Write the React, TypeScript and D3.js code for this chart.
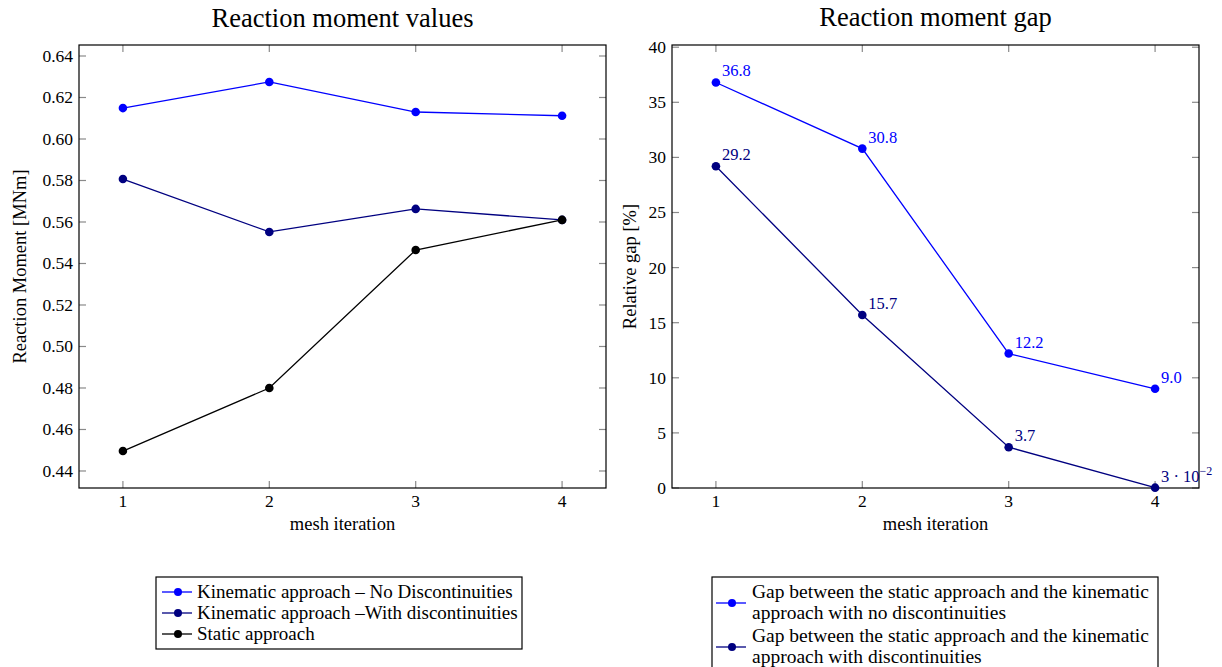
import React from "react";
import * as d3 from "d3";

// ---- data ----
const ITERATIONS = [1, 2, 3, 4];
const KIN_NO_DISC = [0.6149, 0.6275, 0.613, 0.6112];
const KIN_WITH_DISC = [0.5807, 0.5552, 0.5663, 0.561];
const STATIC_APPROACH = [0.4496, 0.48, 0.5465, 0.561];
const LEFT_Y_TICKS = [0.44, 0.46, 0.48, 0.5, 0.52, 0.54, 0.56, 0.58, 0.6, 0.62, 0.64];

const GAP_NO_DISC = [36.8, 30.8, 12.2, 9.0];
const GAP_WITH_DISC = [29.2, 15.7, 3.7, 0.03];
const GAP_NO_LABELS = ["36.8", "30.8", "12.2", "9.0"];
const GAP_WITH_LABELS = ["29.2", "15.7", "3.7", "3 · 10|−2"];
const RIGHT_Y_TICKS = [0, 5, 10, 15, 20, 25, 30, 35, 40];

const LEFT_LEGEND = [
  "Kinematic approach – No Discontinuities",
  "Kinematic approach –With discontinuities",
  "Static approach",
];
const RIGHT_LEGEND = [
  ["Gap between the static approach and the kinematic", "approach with no discontinuities"],
  ["Gap between the static approach and the kinematic", "approach with discontinuities"],
];

const BLUE = "#0000ff";
const NAVY = "#000080";
const BLACK = "#000000";
const FONT = "'Liberation Serif', 'DejaVu Serif', serif";
const TICK_COLOR = "#8a8a8a";

const TOP = 45;
const BOTTOM = 488;

type Series = { values: number[]; color: string; labels?: string[] };

function Panel({
  left,
  right,
  yDomain,
  yTicks,
  yFormat,
  series,
  title,
  titleY,
  yLabel,
  yLabelX,
}: {
  left: number;
  right: number;
  yDomain: [number, number];
  yTicks: number[];
  yFormat: (v: number) => string;
  series: Series[];
  title: string;
  titleY: number;
  yLabel: string;
  yLabelX: number;
}) {
  const x = d3.scaleLinear().domain([0.7, 4.3]).range([left, right]);
  const y = d3.scaleLinear().domain(yDomain).range([BOTTOM, TOP]);
  const line = d3
    .line<number>()
    .x((_, i) => x(ITERATIONS[i]))
    .y((d) => y(d));
  const tl = 7;
  const cx = (left + right) / 2;
  return (
    <g>
      <text x={cx} y={titleY} textAnchor="middle" fontFamily={FONT} fontSize={26.5}>
        {title}
      </text>
      {ITERATIONS.map((t) => (
        <g key={"xt" + t}>
          <line x1={x(t)} x2={x(t)} y1={BOTTOM} y2={BOTTOM - tl} stroke={TICK_COLOR} strokeWidth={1.2} />
          <line x1={x(t)} x2={x(t)} y1={TOP} y2={TOP + tl} stroke={TICK_COLOR} strokeWidth={1.2} />
          <text x={x(t)} y={507} textAnchor="middle" fontFamily={FONT} fontSize={17.5}>
            {t}
          </text>
        </g>
      ))}
      {yTicks.map((t) => (
        <g key={"yt" + t}>
          <line x1={left} x2={left + tl} y1={y(t)} y2={y(t)} stroke={TICK_COLOR} strokeWidth={1.2} />
          <line x1={right} x2={right - tl} y1={y(t)} y2={y(t)} stroke={TICK_COLOR} strokeWidth={1.2} />
          <text
            x={left - 6}
            y={y(t)}
            dy="0.34em"
            textAnchor="end"
            fontFamily={FONT}
            fontSize={17.5}
          >
            {yFormat(t)}
          </text>
        </g>
      ))}
      <rect x={left} y={TOP} width={right - left} height={BOTTOM - TOP} fill="none" stroke="#000" strokeWidth={1.2} />
      <text x={cx} y={530} textAnchor="middle" fontFamily={FONT} fontSize={18.5}>
        mesh iteration
      </text>
      <text
        transform={`translate(${yLabelX},${(TOP + BOTTOM) / 2}) rotate(-90)`}
        textAnchor="middle"
        fontFamily={FONT}
        fontSize={18.5}
      >
        {yLabel}
      </text>
      {series.map((s, si) => (
        <g key={"s" + si}>
          <path d={line(s.values) || ""} fill="none" stroke={s.color} strokeWidth={1.3} />
          {s.values.map((v, i) => (
            <circle key={i} cx={x(ITERATIONS[i])} cy={y(v)} r={4.3} fill={s.color} />
          ))}
          {s.labels &&
            s.values.map((v, i) => {
              const lab = s.labels![i];
              const parts = lab.split("|");
              return (
                <text
                  key={"l" + i}
                  x={x(ITERATIONS[i]) + 6}
                  y={y(v) - 6}
                  fontFamily={FONT}
                  fontSize={16.5}
                  fill={s.color}
                >
                  {parts[0]}
                  {parts.length > 1 && (
                    <tspan dy={-7} fontSize={12}>
                      {parts[1]}
                    </tspan>
                  )}
                </text>
              );
            })}
        </g>
      ))}
    </g>
  );
}

function LegendMarker({ x, y, color }: { x: number; y: number; color: string }) {
  return (
    <g>
      <line x1={x} x2={x + 30} y1={y} y2={y} stroke={color} strokeWidth={1.3} />
      <circle cx={x + 16} cy={y} r={4} fill={color} />
    </g>
  );
}

export default function App() {
  const leftColors = [BLUE, NAVY, BLACK];
  const rightColors = [BLUE, NAVY];
  return (
    <svg
      width={1222}
      height={667}
      style={{ position: "absolute", left: 0, top: 0, background: "#fff" }}
    >
      <rect x={0} y={0} width={1222} height={667} fill="#fff" />
      <Panel
        left={79}
        right={606}
        yDomain={[0.4318, 0.6453]}
        yTicks={LEFT_Y_TICKS}
        yFormat={(v) => v.toFixed(2)}
        series={[
          { values: KIN_NO_DISC, color: BLUE },
          { values: KIN_WITH_DISC, color: NAVY },
          { values: STATIC_APPROACH, color: BLACK },
        ]}
        title="Reaction moment values"
        titleY={27}
        yLabel="Reaction Moment [MNm]"
        yLabelX={26}
      />
      <Panel
        left={672}
        right={1199}
        yDomain={[0, 40.2]}
        yTicks={RIGHT_Y_TICKS}
        yFormat={(v) => String(v)}
        series={[
          { values: GAP_NO_DISC, color: BLUE, labels: GAP_NO_LABELS },
          { values: GAP_WITH_DISC, color: NAVY, labels: GAP_WITH_LABELS },
        ]}
        title="Reaction moment gap"
        titleY={26}
        yLabel="Relative gap [%]"
        yLabelX={636}
      />
      <g>
        <rect x={156} y={577} width={366} height={72} fill="#fff" stroke="#000" strokeWidth={1.2} />
        {LEFT_LEGEND.map((t, i) => (
          <g key={t}>
            <LegendMarker x={162} y={592 + i * 21} color={leftColors[i]} />
            <text x={197} y={592 + i * 21} dy="0.33em" fontFamily={FONT} fontSize={19}>
              {t}
            </text>
          </g>
        ))}
      </g>
      <g>
        <rect x={712} y={577} width={446} height={100} fill="#fff" stroke="#000" strokeWidth={1.2} />
        {RIGHT_LEGEND.map((lines, i) => (
          <g key={i}>
            <LegendMarker x={716} y={603 + i * 44} color={rightColors[i]} />
            {lines.map((l, j) => (
              <text
                key={j}
                x={752}
                y={592 + i * 44 + j * 21}
                dy="0.33em"
                fontFamily={FONT}
                fontSize={19.5}
              >
                {l}
              </text>
            ))}
          </g>
        ))}
      </g>
    </svg>
  );
}
